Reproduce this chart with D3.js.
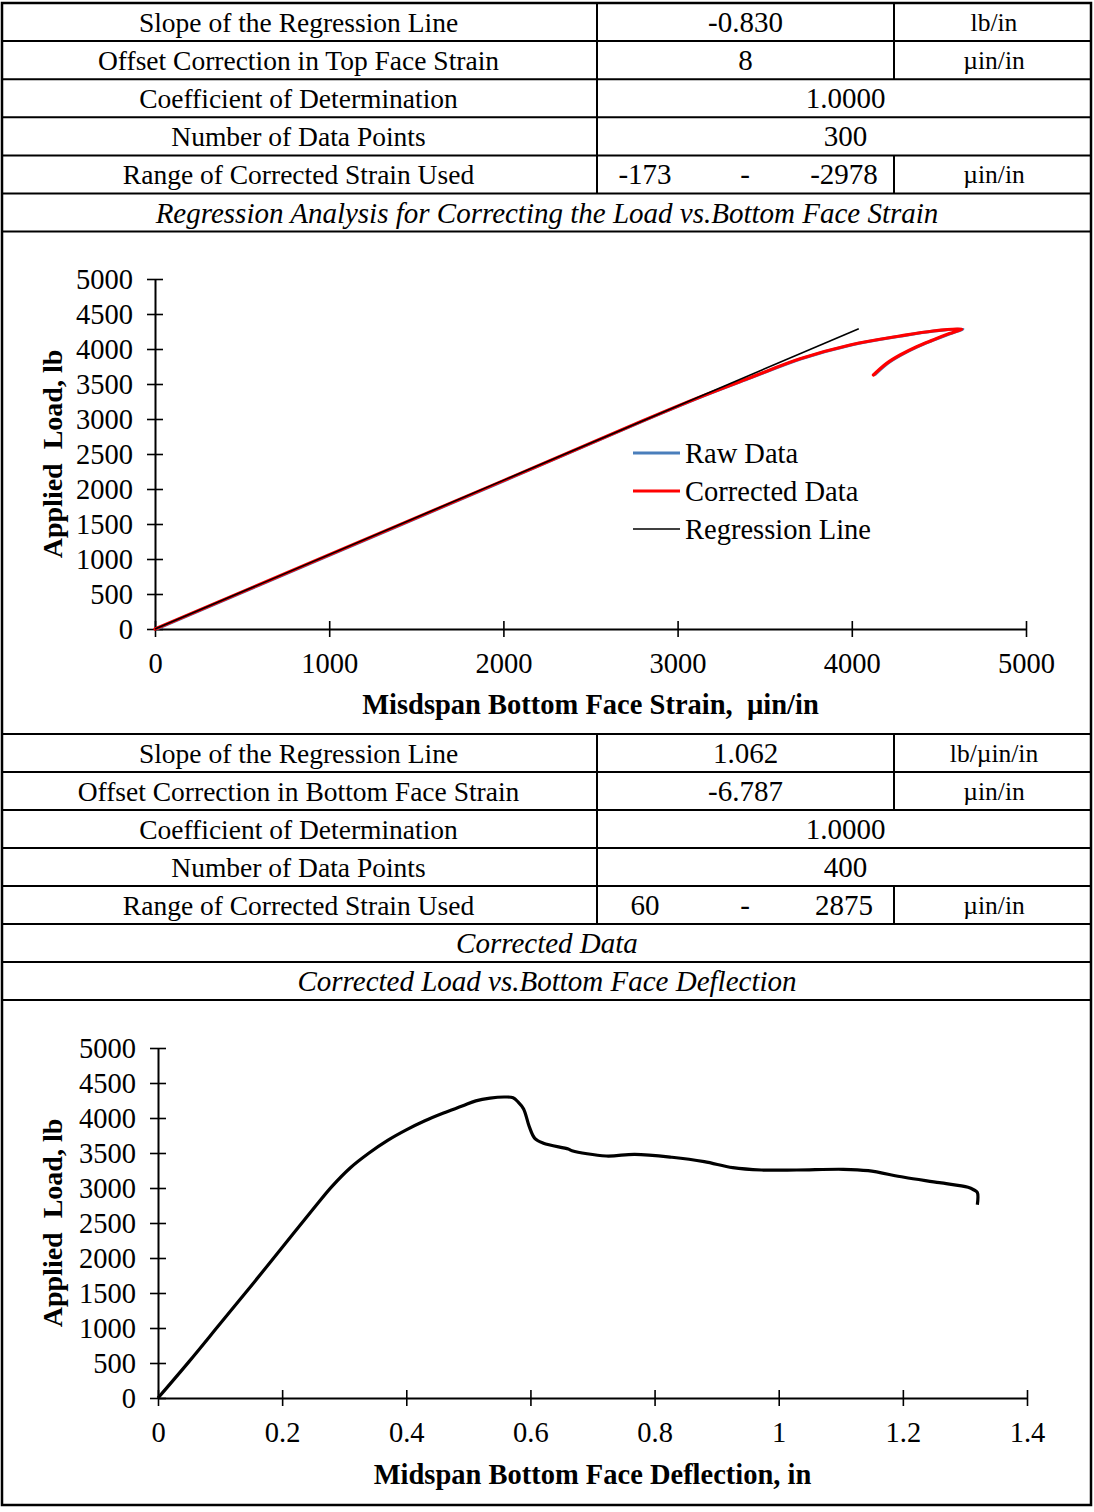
<!DOCTYPE html>
<html>
<head>
<meta charset="utf-8">
<script src="https://cdn.jsdelivr.net/npm/d3@7"></script>
<style>
  html, body { margin: 0; padding: 0; background: #fff; }
  svg text { font-family: "Liberation Serif", "Times New Roman", serif; fill: #000; }
</style>
</head>
<body>
<svg id="sheet" width="1094" height="1512"></svg>
<script>
// ---- Top-face regression summary ----
const topLabels = ["Slope of the Regression Line", "Offset Correction in Top Face Strain",
  "Coefficient of Determination", "Number of Data Points", "Range of Corrected Strain Used"];
const topValues = ["-0.830", "8", "1.0000", "300", ["-173", "-2978"]];
const topUnits = ["lb/in", "µin/in", null, null, "µin/in"];
const topCaption = "Regression Analysis for Correcting the Load vs.Bottom Face Strain";

// ---- Bottom-face regression summary ----
const botLabels = ["Slope of the Regression Line", "Offset Correction in Bottom Face Strain",
  "Coefficient of Determination", "Number of Data Points", "Range of Corrected Strain Used"];
const botValues = ["1.062", "-6.787", "1.0000", "400", ["60", "2875"]];
const botUnits = ["lb/µin/in", "µin/in", null, null, "µin/in"];
const botCaptions = ["Corrected Data", "Corrected Load vs.Bottom Face Deflection"];

// ---- Load vs bottom face strain ----
const strainTicks = [0, 1000, 2000, 3000, 4000, 5000];
const loadTicks = [0, 500, 1000, 1500, 2000, 2500, 3000, 3500, 4000, 4500, 5000];
const regressionSlope = 1.062;
const regressionStrainRange = [0, 4040];
const rawStrain = [7, 1007, 2007, 2797, 3136, 3423, 3710, 3997, 4284, 4473, 4638, 4567, 4473, 4379, 4284, 4207, 4131];
const rawLoad = [0, 1060, 2120, 2965, 3315, 3590, 3860, 4057, 4186, 4257, 4285, 4220, 4129, 4033, 3914, 3795, 3629];
const corrStrain = [0, 1000, 2000, 2790, 3129, 3416, 3703, 3990, 4277, 4466, 4631, 4560, 4466, 4372, 4277, 4200, 4124];
const corrLoad = [0, 1060, 2120, 2965, 3315, 3590, 3860, 4057, 4186, 4257, 4285, 4220, 4129, 4033, 3914, 3795, 3629];
const legendNames = ["Raw Data", "Corrected Data", "Regression Line"];

// ---- Corrected load vs deflection ----
const deflTicks = [0, 0.2, 0.4, 0.6, 0.8, 1, 1.2, 1.4];
const deflection = [0, 0.05, 0.1, 0.15, 0.2, 0.25, 0.28, 0.31, 0.34, 0.37, 0.40, 0.43, 0.46, 0.49,
  0.512, 0.535, 0.558, 0.572, 0.58, 0.589, 0.598, 0.607, 0.621, 0.661, 0.667, 0.722, 0.768,
  0.828, 0.880, 0.926, 0.972, 1.029, 1.104, 1.144, 1.202, 1.259, 1.305, 1.314, 1.320, 1.320];
const deflLoad = [0, 520, 1060, 1600, 2150, 2700, 3020, 3290, 3500, 3680, 3830, 3960, 4070, 4170,
  4245, 4285, 4300, 4290, 4230, 4130, 3880, 3710, 3640, 3557, 3533, 3457, 3481,
  3439, 3376, 3290, 3257, 3257, 3267, 3247, 3153, 3076, 3010, 2975, 2935, 2760];

const svg = d3.select("#sheet");
const W = 1094;
const colA = 597, colB = 894;
const LABEL_FS = 27.5, NUM_FS = 29, UNIT_FS = 25.5, CAP_FS = 29, TICK_FS = 28.5, TITLE_FS = 28.5;

function txt(g, x, y, s, opts = {}) {
  return g.append("text")
    .attr("x", x).attr("y", y)
    .attr("text-anchor", opts.anchor || "middle")
    .attr("dominant-baseline", "central")
    .attr("font-size", opts.size || LABEL_FS)
    .attr("font-style", opts.italic ? "italic" : null)
    .attr("font-weight", opts.bold ? "bold" : null)
    .attr("transform", opts.rotate ? `rotate(${opts.rotate},${x},${y})` : null)
    .style("white-space", "pre")
    .text(s);
}

function hline(y, x1 = 2, x2 = W - 3) {
  svg.append("line").attr("x1", x1).attr("x2", x2).attr("y1", y).attr("y2", y)
    .attr("stroke", "#000").attr("stroke-width", 2);
}
function vline(x, y1, y2) {
  svg.append("line").attr("x1", x).attr("x2", x).attr("y1", y1).attr("y2", y2)
    .attr("stroke", "#000").attr("stroke-width", 2);
}

function drawTable(top, rowH, labels, values, units, captions) {
  const g = svg.append("g");
  labels.forEach((lab, i) => {
    const y0 = top + i * rowH, cy = y0 + rowH / 2;
    hline(y0);
    vline(colA, y0, y0 + rowH);
    txt(g, colA / 2, cy, lab);
    const v = values[i];
    if (Array.isArray(v)) {
      txt(g, 645, cy, v[0], { size: NUM_FS });
      txt(g, 745, cy, "-", { size: NUM_FS });
      txt(g, 844, cy, v[1], { size: NUM_FS });
    } else if (units[i]) {
      txt(g, (colA + colB) / 2, cy, v, { size: NUM_FS });
    } else {
      txt(g, (colA + W) / 2, cy, v, { size: NUM_FS });
    }
    if (units[i]) {
      vline(colB, y0, y0 + rowH);
      txt(g, (colB + W) / 2, cy, units[i], { size: UNIT_FS });
    }
  });
  captions.forEach((c, j) => {
    const y0 = top + (labels.length + j) * rowH;
    hline(y0);
    txt(g, W / 2, y0 + rowH / 2, c, { italic: true, size: CAP_FS });
  });
  hline(top + (labels.length + captions.length) * rowH);
}

function crossTicks(axisG, horizontal) {
  axisG.select(".domain").attr("stroke-width", 2);
  axisG.selectAll(".tick line").attr("stroke-width", 1.6);
  if (horizontal) axisG.selectAll(".tick line").attr("y1", -8).attr("y2", 8);
  else axisG.selectAll(".tick line").attr("x1", -8).attr("x2", 8);
  axisG.selectAll(".tick text")
    .attr("font-family", "Liberation Serif, Times New Roman, serif")
    .attr("font-size", TICK_FS).attr("fill", "#000");
}

function drawAxes(x, y, xTicks, yTicks, xFmt, xTitle, yTitle, xTitleY) {
  const [x0] = x.range();
  const [y0] = y.range();
  const gx = svg.append("g").attr("transform", `translate(0,${y0})`)
    .call(d3.axisBottom(x).tickValues(xTicks).tickFormat(xFmt).tickSizeOuter(0).tickPadding(18));
  crossTicks(gx, true);
  const gy = svg.append("g").attr("transform", `translate(${x0},0)`)
    .call(d3.axisLeft(y).tickValues(yTicks).tickFormat(d3.format("d")).tickSizeOuter(0).tickPadding(16));
  crossTicks(gy, false);
  const xm = (x.range()[0] + x.range()[1]) / 2;
  const ym = (y.range()[0] + y.range()[1]) / 2;
  txt(svg, xm, xTitleY, xTitle, { bold: true, size: TITLE_FS });
  txt(svg, 52, ym, yTitle, { bold: true, size: TITLE_FS - 0.5, rotate: -90 });
}

// Tables
drawTable(3, 38.1, topLabels, topValues, topUnits, [topCaption]);
drawTable(734, 38, botLabels, botValues, botUnits, botCaptions);

// Chart 1: load vs bottom-face strain
const x1 = d3.scaleLinear().domain([0, 5000]).range([155, 1026]);
const y1 = d3.scaleLinear().domain([0, 5000]).range([629, 279]);
drawAxes(x1, y1, strainTicks, loadTicks, d3.format("d"),
  "Misdspan Bottom Face Strain,  µin/in", "Applied  Load, lb", 704);

const smooth = d3.curveCatmullRom.alpha(0.5);
const line1 = d3.line().x(d => x1(d[0])).y(d => y1(d[1])).curve(smooth);
svg.append("path").datum(d3.zip(rawStrain, rawLoad)).attr("d", line1)
  .attr("fill", "none").attr("stroke", "#4a7ebb").attr("stroke-width", 3);
svg.append("path").datum(d3.zip(corrStrain, corrLoad)).attr("d", line1)
  .attr("fill", "none").attr("stroke", "#ff0000").attr("stroke-width", 3.2)
  .attr("stroke-linejoin", "round").attr("stroke-linecap", "round");
const regLine = regressionStrainRange.map(s => [s, regressionSlope * s]);
svg.append("path").datum(regLine)
  .attr("d", d3.line().x(d => x1(d[0])).y(d => y1(d[1])))
  .attr("fill", "none").attr("stroke", "#000").attr("stroke-width", 1.6);

// Legend
const legColors = ["#4a7ebb", "#ff0000", "#000"];
const legWidths = [3, 3, 1.6];
legendNames.forEach((n, i) => {
  const ly = 453 + i * 38;
  svg.append("line").attr("x1", 633).attr("x2", 680).attr("y1", ly).attr("y2", ly)
    .attr("stroke", legColors[i]).attr("stroke-width", legWidths[i]);
  txt(svg, 685, ly, n, { anchor: "start", size: 28.5 });
});

// Chart 2: corrected load vs deflection
const x2 = d3.scaleLinear().domain([0, 1.4]).range([158, 1027]);
const y2 = d3.scaleLinear().domain([0, 5000]).range([1398, 1048]);
drawAxes(x2, y2, deflTicks, loadTicks, d => String(d),
  "Midspan Bottom Face Deflection, in", "Applied  Load, lb", 1474);
svg.append("path").datum(d3.zip(deflection, deflLoad))
  .attr("d", d3.line().x(d => x2(d[0])).y(d => y2(d[1])).curve(smooth))
  .attr("fill", "none").attr("stroke", "#000").attr("stroke-width", 3.2)
  .attr("stroke-linejoin", "round");

// Outer frame
svg.append("rect").attr("x", 2).attr("y", 3).attr("width", W - 5).attr("height", 1502)
  .attr("fill", "none").attr("stroke", "#000").attr("stroke-width", 2.5);
</script>
</body>
</html>
